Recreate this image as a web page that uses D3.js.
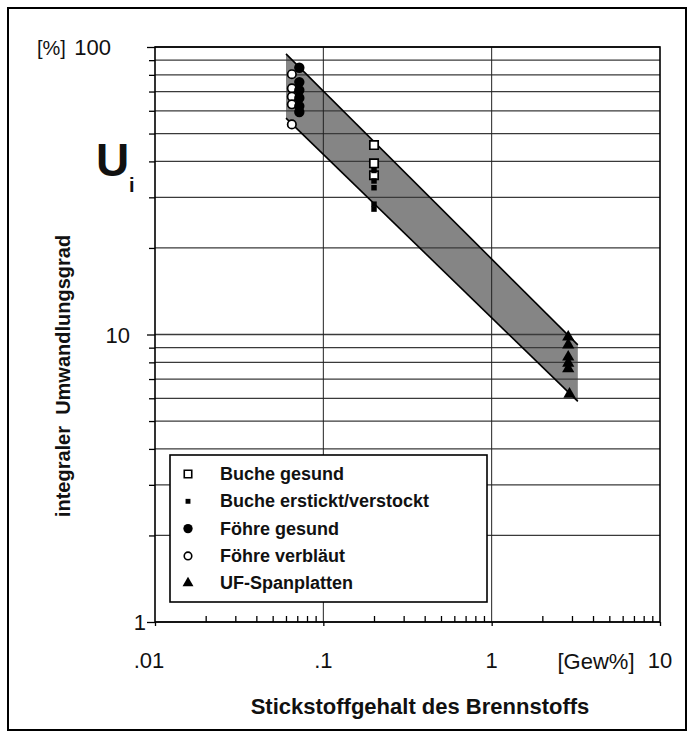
<!DOCTYPE html>
<html>
<head>
<meta charset="utf-8">
<script src="https://cdn.jsdelivr.net/npm/d3@7"></script>
<style>
  body { margin: 0; background: #fff; }
  text { font-family: "Liberation Sans", Arial, sans-serif; fill: #111; }
</style>
</head>
<body>
<div id="graf"></div>
<script>
// Achsen
const xTicks = [0.01, 0.1, 1, 10]
const xTickLabels = ['.01', '.1', '1', '10']
const yTicks = [1, 10, 100]
const yTickLabels = ['1', '10', '100']

// Messwerte (Stickstoffgehalt n in Gew%, Umwandlungsgrad u in %)
const bucheGesund = [
  {n: 0.2, u: 45.6}, {n: 0.2, u: 39.4}, {n: 0.2, u: 35.8}
]
const bucheErstickt = [
  {n: 0.2, u: 37.2}, {n: 0.2, u: 34.2}, {n: 0.2, u: 32.4}, {n: 0.2, u: 28.4}, {n: 0.2, u: 27.3}
]
const foehreGesund = [
  {n: 0.072, u: 84.7}, {n: 0.072, u: 75.5}, {n: 0.072, u: 70.8},
  {n: 0.072, u: 66.5}, {n: 0.072, u: 62.3}, {n: 0.072, u: 59.4}
]
const foehreVerblaeut = [
  {n: 0.065, u: 80.4}, {n: 0.065, u: 71.8}, {n: 0.065, u: 67.2},
  {n: 0.065, u: 63.2}, {n: 0.065, u: 53.8}
]
const ufSpanplatten = [
  {n: 2.85, u: 9.8}, {n: 2.85, u: 9.2}, {n: 2.85, u: 8.35},
  {n: 2.85, u: 7.95}, {n: 2.85, u: 7.6}, {n: 2.9, u: 6.2}
]

// Streuband
const band = [
  {n: 0.06, u: 94.6}, {n: 3.25, u: 9.2}, {n: 3.25, u: 5.85}, {n: 0.06, u: 56.6}
]

const categories = ['Buche gesund', 'Buche erstickt/verstockt', 'Föhre gesund', 'Föhre verbläut', 'UF-Spanplatten']

// Darstellung je Kategorie
const styles = {
  'Buche gesund':             {type: d3.symbolSquare,   size: 70, fill: '#fff', stroke: '#000'},
  'Buche erstickt/verstockt': {type: d3.symbolSquare,   size: 30, fill: '#000', stroke: 'none'},
  'Föhre gesund':             {type: d3.symbolCircle,   size: 85, fill: '#000', stroke: 'none'},
  'Föhre verbläut':           {type: d3.symbolCircle,   size: 56, fill: '#fff', stroke: '#000'},
  'UF-Spanplatten':           {type: d3.symbolTriangle, size: 65, fill: '#000', stroke: 'none'}
}
const series = [
  ['Buche gesund', bucheGesund],
  ['Buche erstickt/verstockt', bucheErstickt],
  ['Föhre verbläut', foehreVerblaeut],
  ['Föhre gesund', foehreGesund],
  ['UF-Spanplatten', ufSpanplatten]
]

const ancho_total = 693
const alto_total = 738
const margins = {top: 47, left: 155, right: 33, bottom: 116}
const ancho = ancho_total - margins.left - margins.right
const alto = alto_total - margins.top - margins.bottom

const svg = d3.select('#graf').append('svg')
  .attr('width', ancho_total)
  .attr('height', alto_total)

// Rahmen um die ganze Abbildung
svg.append('rect')
  .attr('x', 8).attr('y', 8)
  .attr('width', 678).attr('height', 722)
  .attr('fill', 'none').attr('stroke', '#000').attr('stroke-width', 2)

const g = svg.append('g')
  .attr('transform', `translate(${margins.left}, ${margins.top})`)

const x = d3.scaleLog().domain([0.01, 10]).range([0, ancho])
const y = d3.scaleLog().domain([1, 100]).range([alto, 0])

const minorY = y.ticks().filter(d => yTicks.indexOf(d) < 0)
const minorX = x.ticks().filter(d => xTicks.indexOf(d) < 0)

// Streuband
const bandGen = d3.line().x(d => x(d.n)).y(d => y(d.u))
g.append('path')
  .attr('d', bandGen(band) + 'Z')
  .attr('fill', '#858585')

// Gitter
g.append('g').selectAll('line')
  .data(y.ticks())
  .join('line')
  .attr('x1', 0).attr('x2', ancho)
  .attr('y1', d => y(d)).attr('y2', d => y(d))
  .attr('stroke', '#3a3a3a').attr('stroke-width', 1.3)

g.append('g').selectAll('line')
  .data([0.1, 1])
  .join('line')
  .attr('x1', d => x(d)).attr('x2', d => x(d))
  .attr('y1', 0).attr('y2', alto)
  .attr('stroke', '#222').attr('stroke-width', 1)

// Kanten des Bandes
g.append('path')
  .attr('d', bandGen([band[0], band[1]]))
  .attr('stroke', '#000').attr('stroke-width', 1.6).attr('fill', 'none')
g.append('path')
  .attr('d', bandGen([band[3], band[2]]))
  .attr('stroke', '#000').attr('stroke-width', 1.6).attr('fill', 'none')

// Achsen: kleine Striche
const yMinorAxis = d3.axisLeft(y).tickValues(minorY).tickSize(6).tickFormat('')
g.append('g').call(yMinorAxis)
const yMajorAxis = d3.axisLeft(y).tickValues(yTicks).tickSize(8).tickFormat('')
g.append('g').call(yMajorAxis)
const xMinorAxis = d3.axisTop(x).tickValues(minorX).tickSize(6).tickFormat('')
g.append('g').attr('transform', `translate(0, ${alto})`).call(xMinorAxis)
const xMajorAxis = d3.axisBottom(x).tickValues(xTicks).tickSize(4).tickFormat('')
g.append('g').attr('transform', `translate(0, ${alto})`).call(xMajorAxis)
g.selectAll('.domain').remove()
g.selectAll('.tick line').attr('stroke', '#000').attr('stroke-width', 1.3)

// Plotrahmen
g.append('rect')
  .attr('width', ancho).attr('height', alto)
  .attr('fill', 'none').attr('stroke', '#000').attr('stroke-width', 1.6)

// Messpunkte
series.forEach(([name, data]) => {
  const s = styles[name]
  g.append('g').selectAll('path')
    .data(data)
    .join('path')
    .attr('transform', d => `translate(${x(d.n)}, ${y(d.u)})`)
    .attr('d', d3.symbol().type(s.type).size(s.size))
    .attr('fill', s.fill)
    .attr('stroke', s.stroke)
    .attr('stroke-width', 1.7)
})

// Beschriftung y
const yLabelX = {1: -9, 10: -25, 100: -44}
g.append('g').selectAll('text')
  .data(yTicks)
  .join('text')
  .attr('x', d => yLabelX[d])
  .attr('y', d => y(d) + 8)
  .attr('text-anchor', 'end')
  .style('font-size', '22px')
  .text((d, i) => yTickLabels[i])

svg.append('text').attr('x', 37).attr('y', 55).style('font-size', '20px').text('[%]')

svg.append('text').attr('x', 96).attr('y', 176)
  .style('font-size', '46px').style('font-weight', 'bold').text('U')
svg.append('text').attr('x', 129).attr('y', 192)
  .style('font-size', '20px').style('font-weight', 'bold').text('i')

svg.append('text')
  .attr('transform', 'translate(70, 376) rotate(-90)')
  .attr('text-anchor', 'middle')
  .style('font-size', '20px').style('font-weight', 'bold')
  .style('white-space', 'pre')
  .text('integraler  Umwandlungsgrad')

// Beschriftung x
g.append('g').selectAll('text')
  .data(xTicks)
  .join('text')
  .attr('x', d => x(d) - (d === 0.01 ? 6 : 0))
  .attr('y', alto + 46)
  .attr('text-anchor', 'middle')
  .style('font-size', '22px')
  .text((d, i) => xTickLabels[i])

svg.append('text').attr('x', 596).attr('y', 669)
  .attr('text-anchor', 'middle').style('font-size', '22px').text('[Gew%]')

svg.append('text').attr('x', 420).attr('y', 714)
  .attr('text-anchor', 'middle')
  .style('font-size', '22px').style('font-weight', 'bold')
  .text('Stickstoffgehalt des Brennstoffs')

// Legende
const legend = svg.append('g').attr('transform', 'translate(170, 455)')
legend.append('rect')
  .attr('width', 317).attr('height', 147)
  .attr('fill', '#fff').attr('stroke', '#000').attr('stroke-width', 1.6)

const rows = legend.selectAll('g.item')
  .data(categories)
  .join('g')
  .attr('class', 'item')
  .attr('transform', (d, i) => `translate(0, ${18 + i * 27.3})`)

rows.append('path')
  .attr('transform', 'translate(18, 1)')
  .attr('d', d => d3.symbol().type(styles[d].type).size(styles[d].size * 0.8)())
  .attr('fill', d => styles[d].fill)
  .attr('stroke', d => styles[d].stroke)
  .attr('stroke-width', 1.6)

rows.append('text')
  .attr('x', 50).attr('y', 7)
  .style('font-size', '18px').style('font-weight', 'bold')
  .text(d => d)
</script>
</body>
</html>
